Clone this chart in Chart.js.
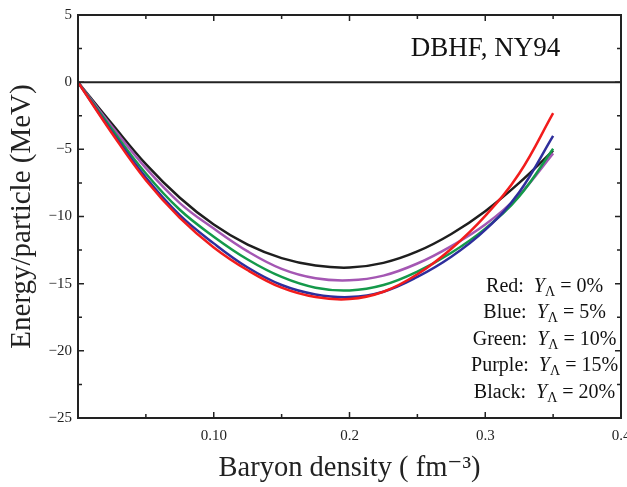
<!DOCTYPE html>
<html>
<head>
<meta charset="utf-8">
<script src="https://cdn.jsdelivr.net/npm/chart.js@4"></script>
<style>
    html, body { margin: 0; padding: 0; background: #fff; }
    #wrap { width: 627px; height: 487px; }
</style>
</head>
<body>
<div id="wrap"><canvas id="energyChart" width="627" height="487"></canvas></div>
<script>
// Baryon density (fm^-3) sample points
const density = [0, 0.025, 0.05, 0.075, 0.1, 0.125, 0.15, 0.175, 0.2, 0.225, 0.25, 0.275, 0.3, 0.325, 0.35];

// Energy per particle (MeV) for each hyperon fraction
const red    = [0, -3.8, -7.3, -10.1, -12.3, -14.0, -15.3, -16.0, -16.15, -15.6, -14.3, -12.4, -9.95, -6.8, -2.3];
const blue   = [0, -3.7, -7.1, -9.9, -12.0, -13.8, -15.1, -15.8, -16.0, -15.6, -14.5, -13.0, -11.0, -8.2, -4.0];
const green  = [0, -3.5, -6.8, -9.5, -11.5, -13.2, -14.5, -15.3, -15.5, -15.1, -14.1, -12.7, -10.9, -8.5, -4.95];
const purple = [0, -3.3, -6.4, -9.0, -10.9, -12.6, -13.9, -14.6, -14.75, -14.4, -13.5, -12.2, -10.6, -8.4, -5.3];
const black  = [0, -3.1, -6.1, -8.6, -10.6, -12.1, -13.1, -13.65, -13.8, -13.45, -12.6, -11.3, -9.6, -7.5, -5.1];

// zero reference line
const zeroLineX = [0, 0.4];
const zeroLineY = [0, 0];

// tick labels
const xLabelValues = [0.1, 0.2, 0.3, 0.4];
const xLabelTexts = ['0.10', '0.2', '0.3', '0.4'];
const yLabelValues = [5, 0, -5, -10, -15, -20, -25];
const yLabelTexts = ['5', '0', '\u22125', '\u221210', '\u221215', '\u221220', '\u221225'];

// legend lines: [name, percent]
const legendNames = ['Red', 'Blue', 'Green', 'Purple', 'Black'];
const legendPercents = ['0%', '5%', '10%', '15%', '20%'];

const serif = "'Liberation Serif', 'DejaVu Serif', serif";

function pts(xs, ys) {
    return xs.map((x, i) => ({ x: x, y: ys[i] }));
}

function curve(values, color) {
    return {
        data: pts(density, values),
        borderColor: color,
        borderWidth: 2.5,
        pointRadius: 0,
        tension: 0.4,
        fill: false
    };
}

function findLabel(values, texts, v) {
    for (let i = 0; i < values.length; i++) {
        if (Math.abs(values[i] - v) < 1e-6) return texts[i];
    }
    return '';
}

// frame, inward ticks on all four sides, and the text annotations
const framePlugin = {
    id: 'frame',
    afterDraw(chart) {
        const ctx = chart.ctx;
        const a = chart.chartArea;
        const xs = chart.scales.x;
        const ys = chart.scales.y;
        ctx.save();
        ctx.strokeStyle = '#222';
        ctx.lineWidth = 1.5;

        xs.ticks.forEach(t => {
            const px = xs.getPixelForValue(t.value);
            const len = Math.abs(t.value * 10 - Math.round(t.value * 10)) < 1e-6 ? 6 : 4;
            ctx.beginPath();
            ctx.moveTo(px, a.bottom); ctx.lineTo(px, a.bottom - len);
            ctx.moveTo(px, a.top); ctx.lineTo(px, a.top + len);
            ctx.stroke();
        });
        ys.ticks.forEach(t => {
            const py = ys.getPixelForValue(t.value);
            const len = t.value % 5 === 0 ? 6 : 4;
            ctx.beginPath();
            ctx.moveTo(a.left, py); ctx.lineTo(a.left + len, py);
            ctx.moveTo(a.right, py); ctx.lineTo(a.right - len, py);
            ctx.stroke();
        });

        ctx.lineWidth = 2;
        ctx.strokeRect(a.left, a.top, a.right - a.left, a.bottom - a.top);

        // model label
        ctx.fillStyle = '#111';
        ctx.font = '27px ' + serif;
        ctx.textAlign = 'center';
        ctx.textBaseline = 'alphabetic';
        ctx.fillText('DBHF, NY94', xs.getPixelForValue(0.3002), ys.getPixelForValue(1.93));

        // colour key
        const cx = xs.getPixelForValue(0.3437);
        legendNames.forEach((name, i) => {
            const y = ys.getPixelForValue(-15.15 - i * 1.97) + 6;
            const parts = [
                [name + ':  ', '20px ' + serif, 0],
                ['Y', 'italic 20px ' + serif, 0],
                ['\u039b', '14px ' + serif, 4],
                [' = ' + legendPercents[i], '20px ' + serif, 0]
            ];
            let w = 0;
            parts.forEach(p => { ctx.font = p[1]; w += ctx.measureText(p[0]).width; });
            let x = cx - w / 2;
            ctx.textAlign = 'left';
            parts.forEach(p => {
                ctx.font = p[1];
                ctx.fillText(p[0], x, y + p[2]);
                x += ctx.measureText(p[0]).width;
            });
        });
        ctx.restore();
    }
};

const ctx = document.getElementById('energyChart').getContext('2d');

const energyChart = new Chart(ctx, {
    type: 'line',
    data: {
        datasets: [
            {
                data: pts(zeroLineX, zeroLineY),
                borderColor: '#222',
                borderWidth: 2,
                pointRadius: 0,
                fill: false
            },
            curve(red, '#f21c1c'),
            curve(blue, '#2e2e9c'),
            curve(green, '#14994a'),
            curve(purple, '#a457b3'),
            curve(black, '#1e1e1e')
        ]
    },
    options: {
        responsive: false,
        animation: false,
        devicePixelRatio: 1,
        layout: { padding: { top: 13, right: 6, left: 0, bottom: 0 } },
        plugins: {
            legend: { display: false },
            tooltip: { enabled: false }
        },
        scales: {
            x: {
                type: 'linear',
                min: 0,
                max: 0.4,
                grid: { display: false, drawTicks: false },
                border: { display: false },
                ticks: {
                    stepSize: 0.05,
                    autoSkip: false,
                    maxRotation: 0,
                    padding: 9,
                    color: '#222',
                    font: { family: serif, size: 15 },
                    callback: v => findLabel(xLabelValues, xLabelTexts, v)
                },
                title: {
                    display: true,
                    text: 'Baryon density ( fm\u207b\u00b3)',
                    color: '#222',
                    font: { family: serif, size: 28.5 },
                    padding: { top: 0, bottom: 1 }
                },
                afterFit: s => { s.height = 69; s.paddingLeft = 0; s.paddingRight = 0; }
            },
            y: {
                min: -25,
                max: 5,
                grid: { display: false, drawTicks: false },
                border: { display: false },
                ticks: {
                    stepSize: 2.5,
                    autoSkip: false,
                    padding: 6,
                    color: '#222',
                    font: { family: serif, size: 15 },
                    callback: v => findLabel(yLabelValues, yLabelTexts, v)
                },
                title: {
                    display: true,
                    text: 'Energy/particle (MeV)',
                    color: '#222',
                    font: { family: serif, size: 29 },
                    padding: { top: 5, bottom: 0 }
                },
                afterFit: s => { s.width = 78; }
            }
        }
    },
    plugins: [framePlugin]
});
</script>
</body>
</html>
